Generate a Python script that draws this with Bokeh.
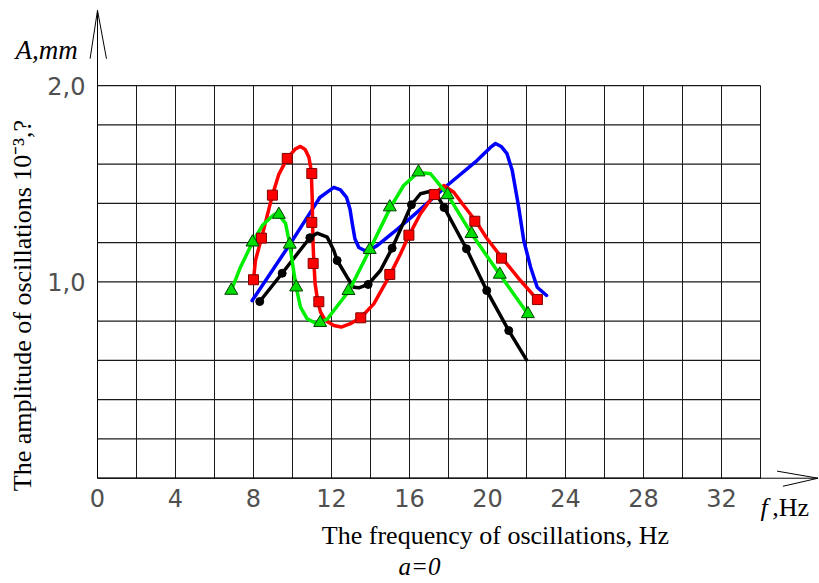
import math
from bokeh.plotting import figure
from bokeh.models import FixedTicker, Label, Range1d, LinearAxis
from bokeh.embed import file_html
from bokeh.resources import INLINE

# ---------------- data ----------------
x_ticks = [0, 4, 8, 12, 16, 20, 24, 28, 32]
x_tick_labels = ["0", "4", "8", "12", "16", "20", "24", "28", "32"]
y_ticks = [1.0, 2.0]
y_tick_labels = ["1,0", "2,0"]
grid_x = [0, 2, 4, 6, 8, 10, 12, 14, 16, 18, 20, 22, 24, 26, 28, 30, 32, 34]
grid_y = [0.0, 0.2, 0.4, 0.6, 0.8, 1.0, 1.2, 1.4, 1.6, 1.8, 2.0]

# red series (squares)
red_x = [8.0, 8.41, 8.97, 9.73, 10.99, 10.99, 11.06, 11.35, 13.5, 14.99, 15.97, 17.27, 19.35, 20.72, 22.56]
red_y = [1.011, 1.223, 1.442, 1.629, 1.552, 1.303, 1.094, 0.899, 0.817, 1.038, 1.238, 1.445, 1.309, 1.121, 0.910]
red_curve_x = [8.0, 8.1, 8.41, 8.97, 9.3, 9.73, 10.15, 10.41, 10.65, 10.84, 10.96, 11.01, 11.03, 11.06, 11.1,
               11.16, 11.3, 11.44, 11.69, 12.12, 12.5, 12.97, 13.52, 14.17, 15.03, 15.54, 15.97, 16.56, 17.3,
               17.76, 18.27, 18.78, 19.38, 19.98, 20.75, 21.69, 22.6]
red_curve_y = [1.011, 1.109, 1.223, 1.442, 1.548, 1.629, 1.678, 1.69, 1.675, 1.635, 1.568, 1.431, 1.304, 1.177, 1.092,
               0.990, 0.897, 0.846, 0.803, 0.778, 0.770, 0.787, 0.820, 0.888, 1.041, 1.143, 1.236, 1.347, 1.449,
               1.491, 1.457, 1.389, 1.313, 1.220, 1.121, 1.007, 0.905]

# green series (triangles)
green_x = [6.86, 7.95, 9.30, 9.86, 10.19, 11.42, 12.87, 13.96, 14.99, 16.46, 17.95, 19.18, 20.63, 22.07]
green_y = [0.956, 1.202, 1.343, 1.191, 0.973, 0.792, 0.955, 1.164, 1.381, 1.559, 1.443, 1.245, 1.038, 0.837]
green_curve_x = [6.86, 7.33, 7.95, 8.45, 8.87, 9.1, 9.30, 9.64, 9.86, 10.03, 10.19, 10.41, 10.75, 11.18, 11.42,
                 11.8, 12.12, 12.9, 13.96, 15.03, 15.7, 16.46, 17.08, 17.95, 19.18, 20.63, 22.07]
green_curve_y = [0.956, 1.075, 1.202, 1.287, 1.327, 1.345, 1.340, 1.30, 1.191, 1.075, 0.973, 0.871, 0.812, 0.790, 0.792,
                 0.812, 0.854, 0.955, 1.164, 1.381, 1.491, 1.559, 1.551, 1.445, 1.245, 1.038, 0.837]

# black series (circles)
black_x = [8.32, 9.47, 10.89, 12.29, 13.88, 15.11, 16.10, 17.77, 18.92, 19.96, 21.09]
black_y = [0.900, 1.044, 1.225, 1.109, 0.987, 1.172, 1.393, 1.379, 1.169, 0.956, 0.752]
black_curve_x = [8.32, 9.47, 10.89, 11.26, 11.78, 12.12, 12.29, 12.8, 13.14, 13.4, 13.88, 14.51, 15.11, 16.10,
                 16.56, 17.08, 17.42, 17.77, 18.92, 19.96, 21.09, 22.0]
black_curve_y = [0.900, 1.044, 1.225, 1.248, 1.228, 1.160, 1.109, 1.024, 0.973, 0.970, 0.987, 1.058, 1.172, 1.393,
                 1.449, 1.462, 1.440, 1.381, 1.169, 0.956, 0.752, 0.603]

# blue series (no markers)
blue_curve_x = [7.93, 9.86, 11.09, 11.4, 11.78, 12.12, 12.46, 12.77, 12.95, 13.06, 13.2, 13.4, 13.7, 13.91, 14.34,
                15.19, 16.22, 17.93, 19.46, 20.15, 20.41, 20.7, 21.0, 21.27, 21.6, 21.86, 22.21, 22.55, 23.03]
blue_curve_y = [0.905, 1.191, 1.381, 1.43, 1.457, 1.482, 1.469, 1.431, 1.37, 1.30, 1.22, 1.175, 1.16, 1.162, 1.185,
                1.253, 1.34, 1.491, 1.618, 1.685, 1.705, 1.69, 1.653, 1.567, 1.38, 1.211, 1.075, 0.973, 0.931]

x_title = "The frequency of oscillations, Hz"
y_title = "The amplitude of oscillations 10\u207b\u00b3,?"

# ---------------- figure ----------------
W, H = 819, 583
X0, X1 = -4.9744, 37.0256
Y0, Y1 = -0.5364, 2.4335
p = figure(width=W, height=H, output_backend="svg", toolbar_location=None,
           x_range=Range1d(X0, X1), y_range=Range1d(Y0, Y1),
           min_border_left=0, min_border_right=0, min_border_top=0, min_border_bottom=0)
p.outline_line_color = None
p.grid.visible = False
p.background_fill_color = "white"
p.border_fill_color = "white"

tick_font = "DejaVu Sans"
serif = "Liberation Serif"
p.xaxis.ticker = FixedTicker(ticks=x_ticks)
p.xaxis.major_label_overrides = {t: s for t, s in zip(x_ticks, x_tick_labels)}
p.yaxis.ticker = FixedTicker(ticks=y_ticks)
p.yaxis.major_label_overrides = {t: s for t, s in zip(y_ticks, y_tick_labels)}
for ax in (p.xaxis, p.yaxis):
    ax.fixed_location = 0
    ax.axis_line_color = None
    ax.major_tick_line_color = None
    ax.minor_tick_line_color = None
    ax.major_label_text_font = tick_font
    ax.major_label_text_font_size = "24px"
    ax.major_label_text_color = "#505050"
    ax.axis_label_text_font = serif
    ax.axis_label_text_font_size = "26px"
    ax.axis_label_text_font_style = "normal"
    ax.axis_label_text_color = "black"
p.xaxis.major_label_standoff = 5
p.yaxis.major_label_standoff = 6
p.yaxis.major_label_orientation = "horizontal"
p.yaxis.axis_label = y_title
p.yaxis.bounds = (-0.24, 2.0)
p.yaxis.axis_label_standoff = 7

# second (tick-less) bottom axis that only carries the x title, centred under the data region
x_title_axis = LinearAxis(fixed_location=0, ticker=FixedTicker(ticks=[]), bounds=(3.79, X1),
                          axis_label=x_title, axis_line_color=None, major_tick_line_color=None,
                          minor_tick_line_color=None, axis_label_standoff=42,
                          axis_label_text_font=serif, axis_label_text_font_size="26px",
                          axis_label_text_font_style="normal", axis_label_text_color="black")
p.add_layout(x_title_axis, "below")

# grid (limited to the drawn cells)
gx_max = grid_x[-1]
gy_max = grid_y[-1]
p.segment(x0=grid_x, y0=[0] * len(grid_x), x1=grid_x, y1=[gy_max] * len(grid_x),
          line_color="#1a1a1a", line_width=1)
p.segment(x0=[0] * len(grid_y), y0=grid_y, x1=[gx_max] * len(grid_y), y1=grid_y,
          line_color="#1a1a1a", line_width=1.2)

# axis lines with open arrow heads
ay_top = 2.383
ax_right = 36.95
p.line([0, 0], [0, ay_top], line_color="black", line_width=1)
p.line([-0.38, 0, 0.46], [2.137, ay_top, 2.137], line_color="black", line_width=1)
p.line([0, ax_right], [0, 0], line_color="black", line_width=1)
p.line([ax_right - 2.1, ax_right, ax_right - 1.8], [0.036, 0, -0.041], line_color="black", line_width=1)

# curves
lw = 3.5
p.line(blue_curve_x, blue_curve_y, line_color="#0000ff", line_width=lw, line_join="round", line_cap="round")
p.line(red_curve_x, red_curve_y, line_color="#ff0000", line_width=lw, line_join="round", line_cap="round")
p.line(black_curve_x, black_curve_y, line_color="black", line_width=lw, line_join="round", line_cap="round")
p.line(green_curve_x, green_curve_y, line_color="#00ee00", line_width=lw, line_join="round", line_cap="round")

# markers
p.scatter(red_x, red_y, marker="square", size=10, fill_color="#ff0000", line_color="#800000", line_width=1)
p.scatter(green_x, green_y, marker="triangle", size=13, fill_color="#00dd00", line_color="#004000", line_width=1)
p.scatter(black_x, black_y, marker="circle", size=8, fill_color="black", line_color="black")

# texts
p.add_layout(Label(x=-4.2, y=2.179, text="A,mm", text_font=serif, text_font_style="italic",
                   text_font_size="27px", text_align="left", text_baseline="alphabetic", text_color="black"))
p.add_layout(Label(x=34.0, y=-0.151, text="f", text_font=serif, text_font_style="italic",
                   text_font_size="26px", text_align="left", text_baseline="alphabetic", text_color="black"))
p.add_layout(Label(x=34.6, y=-0.151, text=",Hz", text_font=serif,
                   text_font_size="26px", text_align="left", text_baseline="alphabetic", text_color="black"))
p.add_layout(Label(x=16.51, y=-0.449, text="a=0", text_font=serif, text_font_style="italic",
                   text_font_size="25px", text_align="center", text_baseline="alphabetic", text_color="black"))

open("out.html", "w").write(file_html(p, INLINE))
